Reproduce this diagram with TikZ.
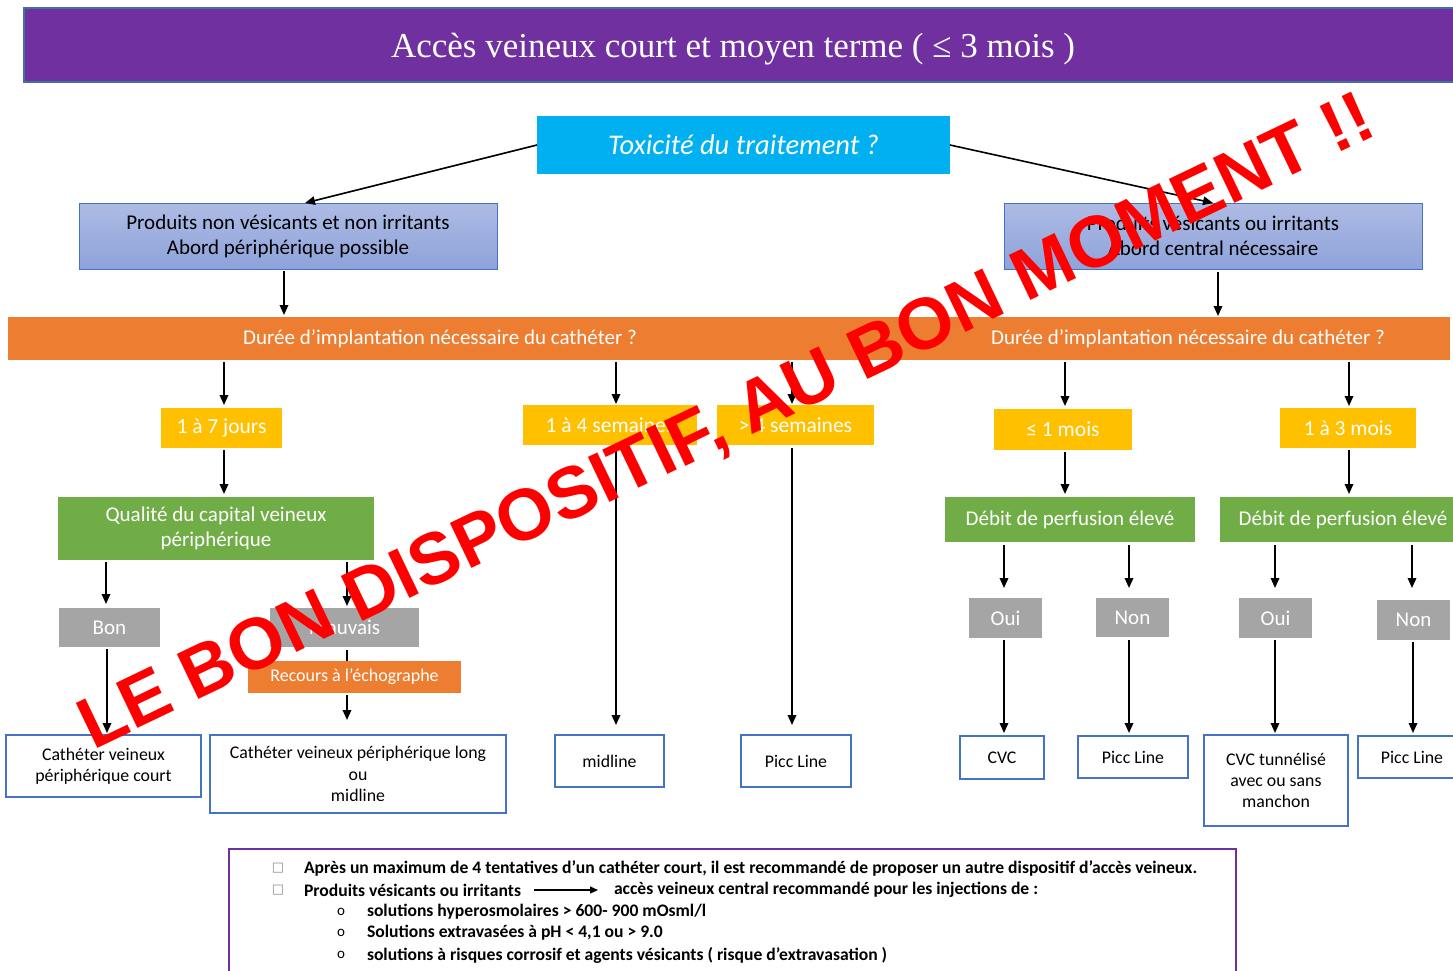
\documentclass[tikz,border=0pt]{standalone}
\usepackage{fontspec}
\setmainfont{Carlito}
\newfontfamily\titlefont{Liberation Serif}
\newfontfamily\stampfont{Liberation Sans}
\newfontfamily\symfont{DejaVu Sans}
\usetikzlibrary{arrows.meta,calc}

\definecolor{cpurple}{HTML}{7030A0}
\definecolor{cframe}{HTML}{41719C}
\definecolor{ccyan}{HTML}{00B0F0}
\definecolor{corange}{HTML}{ED7D31}
\definecolor{cyellow}{HTML}{FFC000}
\definecolor{cgreen}{HTML}{70AD47}
\definecolor{cgray}{HTML}{A5A5A5}
\definecolor{cblue}{HTML}{4472C4}
\definecolor{cbluetop}{HTML}{AEBBE4}
\definecolor{cbluebot}{HTML}{8DA3DA}
\definecolor{cbullet}{HTML}{8C8C8C}

\tikzset{
  every node/.style={inner sep=0pt, outer sep=0pt},
  sz/.style 2 args={minimum width=#1pt, minimum height=#2pt},
  titlebox/.style={fill=cpurple, draw=cframe, line width=2pt},
  toxbox/.style={fill=ccyan, text=white, font=\fontsize{28.5}{33}\selectfont\itshape},
  bluebox/.style={draw=cblue, line width=1pt, top color=cbluetop, bottom color=cbluebot,
    align=center, text=black, font=\fontsize{21}{25}\selectfont},
  obar/.style={fill=corange, text=white, font=\fontsize{21}{25}\selectfont},
  ybox/.style={fill=cyellow, text=white, font=\fontsize{21.5}{25}\selectfont},
  gbox/.style={fill=cgreen, text=white, align=center, font=\fontsize{21}{25}\selectfont},
  graybox/.style={fill=cgray, text=white, font=\fontsize{21}{25}\selectfont},
  echobox/.style={fill=corange, text=white, font=\fontsize{18}{21}\selectfont},
  leaf/.style={draw=cblue, line width=1.3pt, fill=white, text=black, align=center,
    font=\fontsize{17.8}{21.5}\selectfont},
  notebox/.style={draw=cpurple, line width=1.3pt},
  note/.style={anchor=west, text=black, font=\fontsize{17.6}{20}\selectfont\bfseries},
  sqbullet/.style={text=cbullet, font=\symfont\fontsize{13}{15}\selectfont},
  obullet/.style={text=black, font=\fontsize{15}{17}\selectfont},
  arr/.style={line width=1.8pt, -{Triangle[length=10pt,width=8.5pt]}},
  thinarr/.style={line width=1.2pt, -{Triangle[length=8pt,width=7pt]}},
  link/.style={line width=1.8pt},
  stamp/.style={text=red, font=\stampfont\bfseries\fontsize{72.5}{73}\selectfont}
}

\begin{document}
\begin{tikzpicture}[x=1pt, y=-1pt]
\useasboundingbox (0,0) rectangle (1453,970);

% title band
\node[titlebox, sz={1450}{74}] (titlebar) at (749,45) {};
\node[text=white, font=\titlefont\fontsize{35}{40}\selectfont] (title) at (733,49)
  {Accès veineux court et moyen terme ( ≤ 3 mois )};

% first question and the two branches
\node[toxbox, sz={413}{58}] (tox) at (743.5,145) {Toxicité du traitement ?};
\node[bluebox, sz={418}{66}] (lb) at (288,236)
  {Produits non vésicants et non irritants\\Abord périphérique possible};
\node[bluebox, sz={418}{66}] (rb) at (1213,236)
  {Produits vésicants ou irritants\\Abord central nécessaire};

% duration bars
\node[obar, sz={918}{43}] (dl) at (467,338.5) {};
\node[text=white, font=\fontsize{21}{25}\selectfont] (dltxt) at (440,339)
  {Durée d’implantation nécessaire du cathéter ?};
\node[obar, sz={524}{43}] (dr) at (1188,338.5)
  {Durée d’implantation nécessaire du cathéter ?};

% durations
\node[ybox, sz={121}{40}] (j17) at (221.5,428) {1 à 7 jours};
\node[ybox, sz={174}{40}] (j14) at (610,425) {1 à 4 semaines};
\node[ybox, sz={157}{40}] (j4p) at (795.5,425) {> 4 semaines};
\node[ybox, sz={138}{41}] (m1) at (1063,429.5) {≤ 1 mois};
\node[ybox, sz={136}{40}] (m13) at (1348,428) {1 à 3 mois};

% criteria
\node[gbox, sz={316}{63}] (qual) at (216,528.5)
  {Qualité du capital veineux\\périphérique};
\node[gbox, sz={250}{45}] (deb1) at (1070,519.5) {Débit de perfusion élevé};
\node[gbox, sz={246}{45}] (deb2) at (1343,519.5) {Débit de perfusion élevé};

% answers
\node[graybox, sz={101}{39}] (bon) at (109.5,627.5) {Bon};
\node[graybox, sz={149}{39}] (mauv) at (344.5,627.5) {Mauvais};
\node[graybox, sz={73}{40}] (oui1) at (1005.5,618) {Oui};
\node[graybox, sz={73}{39}] (non1) at (1132.5,617.5) {Non};
\node[graybox, sz={73}{40}] (oui2) at (1275.5,618) {Oui};
\node[graybox, sz={73}{40}] (non2) at (1413.5,620) {Non};
\node[echobox, sz={213}{32}] (echo) at (354.5,677) {Recours à l’échographe};

% devices
\node[leaf, sz={195}{62}] (cvpc) at (103.5,766) {Cathéter veineux\\périphérique court};
\node[leaf, sz={296}{78}] (cvpl) at (358,774) {Cathéter veineux périphérique long\\ou\\midline};
\node[leaf, sz={109}{52}] (mid) at (609.5,761) {midline};
\node[leaf, sz={110}{52}] (picc1) at (796,761) {Picc Line};
\node[leaf, sz={84}{43}] (cvc) at (1002,757.5) {CVC};
\node[leaf, sz={110}{42}] (picc2) at (1133,757) {Picc Line};
\node[leaf, sz={144}{91}, font=\fontsize{17.8}{21}\selectfont] (cvct) at (1276,780.5) {CVC tunnélisé\\avec ou sans\\manchon};
\node[leaf, sz={108}{42}] (picc3) at (1412,757) {Picc Line};

% connectors
\draw[link, -{Triangle[length=10pt,width=8.5pt]}, line width=1.6pt]
  (tox.west) -- ($(lb.north)+(17,0)$);
\draw[link, -{Triangle[length=10pt,width=8.5pt]}, line width=1.6pt]
  (tox.east) -- (rb.north);
\draw[arr] ($(lb.south)+(-4,2)$) -- ($(lb.south |- dl.north)+(-4,-2)$);
\draw[arr] ($(rb.south)+(5,3)$) -- ($(rb.south |- dr.north)+(5,-1)$);

\draw[arr] ($(dl.south -| j17.north)+(2.5,2)$) -- ($(j17.north)+(2.5,-3)$);
\draw[arr] ($(dl.south -| j14.north)+(6,2)$) -- ($(j14.north)+(6,-1)$);
\draw[arr] ($(dl.south -| j4p.north)+(-3.5,2)$) -- ($(j4p.north)+(-3.5,-1)$);
\draw[arr] ($(dr.south -| m1.north)+(2,2)$) -- ($(m1.north)+(2,-3)$);
\draw[arr] ($(dr.south -| m13.north)+(1,2)$) -- ($(m13.north)+(1,-2)$);

\draw[arr] ($(j17.south)+(2.5,2)$) -- ($(j17.south |- qual.north)+(2.5,-3)$);
\draw[arr] ($(j14.south)+(6,2)$) -- ($(j14.south |- mid.north)+(6,-10)$);
\draw[arr] ($(j4p.south)+(-3.5,3)$) -- ($(j4p.south |- picc1.north)+(-3.5,-10)$);
\draw[arr] ($(m1.south)+(2,2)$) -- ($(m1.south |- deb1.north)+(2,-3)$);
\draw[arr] ($(m13.south)+(1,2)$) -- ($(m13.south |- deb2.north)+(1,-3)$);

\draw[arr] ($(qual.south -| bon.north)+(-3.5,2)$) -- ($(bon.north)+(-3.5,-4)$);
\draw[arr] ($(qual.south -| mauv.north)+(2.5,2)$) -- ($(mauv.north)+(2.5,-2)$);
\draw[arr] ($(deb1.south -| oui1.north)+(-1.5,3)$) -- ($(oui1.north)+(-1.5,-10)$);
\draw[arr] ($(deb1.south -| non1.north)+(-3.5,3)$) -- ($(non1.north)+(-3.5,-10)$);
\draw[arr] ($(deb2.south -| oui2.north)+(-0.5,3)$) -- ($(oui2.north)+(-0.5,-10)$);
\draw[arr] ($(deb2.south -| non2.north)+(-1.5,3)$) -- ($(non2.north)+(-1.5,-12)$);

\draw[arr] ($(bon.south)+(-2.5,2)$) -- ($(bon.south |- cvpc.north)+(-2.5,-2)$);
\draw[link] ($(mauv.south)+(2.5,3)$) -- ($(mauv.south |- echo.north)+(2.5,0)$);
\draw[arr] ($(echo.south -| mauv.south)+(2.5,2)$) -- ($(mauv.south |- cvpl.north)+(2.5,-15)$);
\draw[arr] ($(oui1.south)+(-1.5,2)$) -- ($(oui1.south |- cvc.north)+(-1.5,-3)$);
\draw[arr] ($(non1.south)+(-3.5,3)$) -- ($(non1.south |- picc2.north)+(-3.5,-3)$);
\draw[arr] ($(oui2.south)+(-0.5,2)$) -- ($(oui2.south |- cvct.north)+(-0.5,-2)$);
\draw[arr] ($(non2.south)+(-0.5,2)$) -- ($(non2.south |- picc3.north)+(-0.5,-3)$);

% notes
\node[notebox, sz={1007}{128}] (notes) at (732.5,913) {};
\node[sqbullet] (b1) at (278,868) {□};
\node[note] (n1) at (304,868) {Après un maximum de 4 tentatives d’un cathéter court, il est recommandé de proposer un autre dispositif d’accès veineux.};
\node[sqbullet] (b2) at (278,890) {□};
\node[note] (n2a) at (304,890) {Produits vésicants ou irritants};
\node[note] (n2b) at (614,890) {accès veineux central recommandé pour les injections de :};
\draw[thinarr] ($(n2a.east)+(13,0)$) -- ($(n2b.west)+(-16,0)$);
\node[obullet] (o1) at (341,912) {o};
\node[note] (n3) at (367,912) {solutions hyperosmolaires > 600- 900 mOsml/l};
\node[obullet] (o2) at (341,933) {o};
\node[note] (n4) at (367,933) {Solutions extravasées à pH < 4,1 ou > 9.0};
\node[obullet] (o3) at (341,955) {o};
\node[note] (n5) at (367,955) {solutions à risques corrosif et agents vésicants ( risque d’extravasation )};

% red stamp across the chart
\node[stamp, rotate=25.6, anchor=base] (stampline) at (736,442) {LE BON DISPOSITIF, AU BON MOMENT !!};
\end{tikzpicture}
\end{document}
